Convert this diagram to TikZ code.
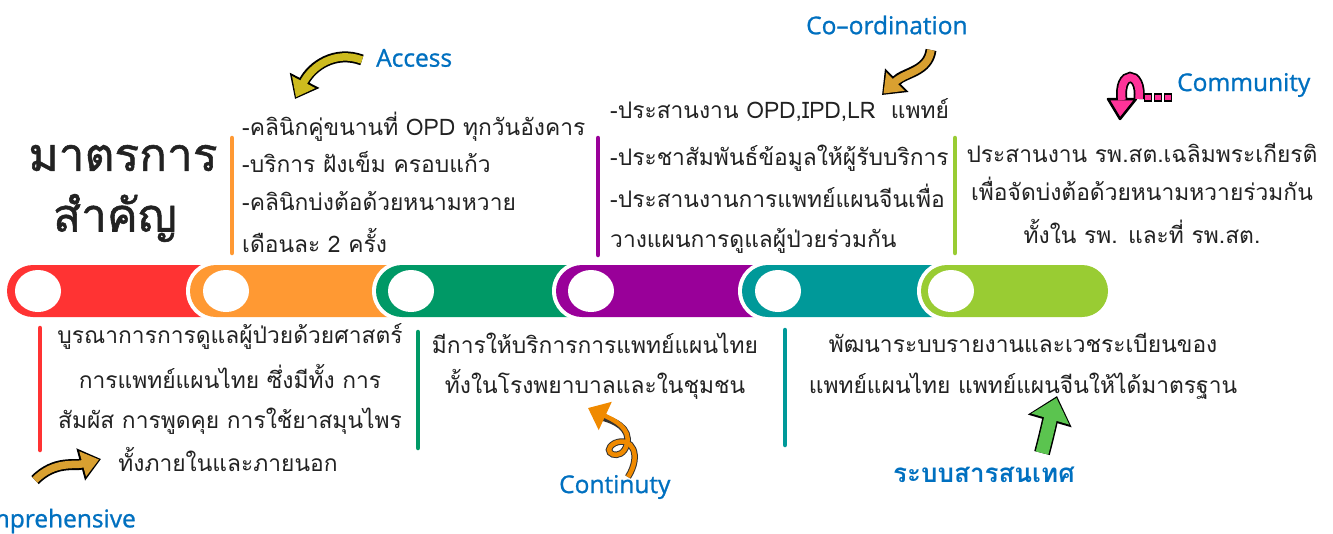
\documentclass[tikz,border=0pt]{standalone}
\usepackage{fontspec}
\usetikzlibrary{arrows.meta}
\newfontfamily\thai[Script=Thai]{Loma}
\newfontfamily\thaittl[Script=Thai,FakeBold=1.2]{Loma}
\newfontfamily\lat[FakeBold=1]{Open Sans}
\definecolor{cred}{HTML}{FF3333}
\definecolor{corange}{HTML}{FF9933}
\definecolor{cgreen}{HTML}{009966}
\definecolor{cpurple}{HTML}{990099}
\definecolor{cteal}{HTML}{009999}
\definecolor{clime}{HTML}{99CC33}
\definecolor{cblue}{HTML}{0070C0}
\definecolor{ctext}{HTML}{222222}
\definecolor{cgold}{HTML}{D9A030}
\definecolor{colive}{HTML}{CDBB1E}
\definecolor{cpink}{HTML}{FF3399}
\definecolor{corng}{HTML}{F08A00}
\definecolor{cgrn}{HTML}{5BC44F}
\begin{document}
\begin{tikzpicture}[x=1pt,y=-1pt,
  body/.style={font=\thai\fontsize{22.8}{26}\selectfont, text=ctext, inner sep=0pt},
  lbl/.style={font=\lat\fontsize{24.5}{28}\selectfont, text=cblue, inner sep=0pt},
  ttl/.style={font=\thaittl\fontsize{46}{54}\selectfont, text=ctext, inner sep=0pt},
  vbar/.style={line width=4.5pt, line cap=round},
  hole/.style={fill=white},
  arrout/.style={line width=11pt, draw=black, -{Triangle[length=21pt,width=32pt]}},
  arrin/.style={line width=7.5pt, -{Triangle[length=17pt,width=25pt]}, shorten >=2pt},
]
\useasboundingbox (0,0) rectangle (1333,533);
\clip (0,0) rectangle (1333,533);
\fill[white] (0,0) rectangle (1333,533);

% ---------- timeline bar ----------
\fill[cred] (33,291) circle[radius=26pt] (33,265) rectangle (220,317);
\fill[white] (216,291) circle[radius=30pt] (216,261) rectangle (406,321);
\fill[corange] (216,291) circle[radius=26pt] (216,265) rectangle (406,317);
\fill[white] (402,291) circle[radius=30pt] (402,261) rectangle (586,321);
\fill[cgreen] (402,291) circle[radius=26pt] (402,265) rectangle (586,317);
\fill[white] (582,291) circle[radius=30pt] (582,261) rectangle (772,321);
\fill[cpurple] (582,291) circle[radius=26pt] (582,265) rectangle (772,317);
\fill[white] (768,291) circle[radius=30pt] (768,261) rectangle (951,321);
\fill[cteal] (768,291) circle[radius=26pt] (768,265) rectangle (951,317);
\fill[white] (947,291) circle[radius=30pt] (947,261) rectangle (1082,321);
\fill[clime] (947,291) circle[radius=26pt] (947,265) rectangle (1082,317) (1082,291) circle[radius=26pt];
\foreach \cx in {38,226,411,591,778,951}
  \fill[hole] (\cx,291) ellipse[x radius=23pt, y radius=21pt];

% ---------- vertical bars ----------
\draw[vbar, corange] (232,138) -- (232,253);
\draw[vbar, cpurple] (598,138) -- (598,255);
\draw[vbar, clime] (955,138) -- (955,253);
\draw[vbar, cred] (40,328) -- (40,450);
\draw[vbar, cgreen] (418,332) -- (418,448);
\draw[vbar, cteal] (785,330) -- (785,445);

% ---------- title ----------
\node[ttl] (t1) at (123,158) {มาตรการ};
\node[ttl] (t2) at (115,218) {สำคัญ};

% ---------- upper texts ----------
\node[body, anchor=base west] (o1) at (242,135) {-คลินิกคู่ขนานที่ OPD ทุกวันอังคาร};
\node[body, anchor=base west] (o2) at (242,172) {-บริการ ฝังเข็ม ครอบแก้ว};
\node[body, anchor=base west] (o3) at (242,210) {-คลินิกบ่งต้อด้วยหนามหวาย};
\node[body, anchor=base west] (o4) at (242,252) {เดือนละ 2 ครั้ง};

\node[body, anchor=base west] (p1) at (610,118) {-ประสานงาน OPD,IPD,LR\ \ แพทย์};
\node[body, anchor=base west] (p2) at (610,165) {-ประชาสัมพันธ์ข้อมูลให้ผู้รับบริการ};
\node[body, anchor=base west] (p3) at (610,207) {-ประสานงานการแพทย์แผนจีนเพื่อ};
\node[body, anchor=base west] (p4) at (610,247) {วางแผนการดูแลผู้ป่วยร่วมกัน};

\node[body, anchor=base] (l1) at (1142,162) {ประสานงาน รพ.สต.เฉลิมพระเกียรติ};
\node[body, anchor=base] (l2) at (1142,200) {เพื่อจัดบ่งต้อด้วยหนามหวายร่วมกัน};
\node[body, anchor=base] (l3) at (1142,243) {ทั้งใน รพ. และที่ รพ.สต.};

% ---------- lower texts ----------
\node[body, anchor=base] (r1) at (230,343) {บูรณาการการดูแลผู้ป่วยด้วยศาสตร์};
\node[body, anchor=base] (r2) at (230,388) {การแพทย์แผนไทย ซึ่งมีทั้ง การ};
\node[body, anchor=base] (r3) at (230,428) {สัมผัส การพูดคุย การใช้ยาสมุนไพร};
\node[body, anchor=base] (r4) at (228,471) {ทั้งภายในและภายนอก};

\node[body, anchor=base] (g1) at (595,353) {มีการให้บริการการแพทย์แผนไทย};
\node[body, anchor=base] (g2) at (595,393) {ทั้งในโรงพยาบาลและในชุมชน};

\node[body, anchor=base] (e1) at (1023,352) {พัฒนาระบบรายงานและเวชระเบียนของ};
\node[body, anchor=base] (e2) at (1023,393) {แพทย์แผนไทย แพทย์แผนจีนให้ได้มาตรฐาน};

% ---------- labels ----------
\node[lbl, anchor=west] (acc) at (376,58) {Access};
\node[lbl, anchor=west] (coo) at (806,25) {Co–ordination};
\node[lbl, anchor=west] (com) at (1177,85) {Community};
\node[lbl, anchor=west] (con) at (559,487) {Continuty};
\node[lbl, anchor=east] (cmp) at (136,521) {Comprehensive};
\node[font=\thai\bfseries\fontsize{26}{30}\selectfont, text=cblue, inner sep=0pt, anchor=west] (inf) at (893,475) {ระบบสารสนเทศ};

% ---------- decorative arrows ----------
% Access
\coordinate (a1) at (362,60); \coordinate (a2) at (295,99);
\draw[arrout] (a1) .. controls (335,50) and (312,66) .. (a2);
\draw[arrin, colive] (a1) .. controls (335,50) and (312,66) .. (a2);
% Co-ordination
\coordinate (b1) at (931,50); \coordinate (b2) at (882,95);
\draw[arrout] (b1) .. controls (928,72) and (905,72) .. (b2);
\draw[arrin, cgold] (b1) .. controls (928,72) and (905,72) .. (b2);
% Community
\coordinate (c1) at (1139,99); \coordinate (c2) at (1122,100);
\draw[line width=11pt, black] (c1) .. controls (1142,70) and (1118,70) .. (c2);
\filldraw[fill=cpink, draw=black, line width=2.5pt, line join=round] (1108,99) -- (1136,99) -- (1120,119) -- cycle;
\draw[line width=7.5pt, cpink] (c1) .. controls (1142,70) and (1118,70) .. (c2);
\foreach \dx in {1148,1158,1168}
  \filldraw[fill=cpink, draw=black, line width=1.5pt] (\dx-3.5,94) rectangle (\dx+3.5,101);
% Comprehensive
\coordinate (d1) at (35,480); \coordinate (d2) at (101,459);
\draw[arrout] (d1) .. controls (55,460) and (75,466) .. (d2);
\draw[arrin, cgold] (d1) .. controls (55,460) and (75,466) .. (d2);
% Continuty
\coordinate (e1c) at (628,477); \coordinate (e2c) at (588,408);
\draw[line width=6.5pt, black!80] (e1c) .. controls (642,455) and (632,436) .. (615,443) .. controls (598,452) and (622,464) .. (627,444) .. controls (631,428) and (614,420) .. (600,417);
\draw[line width=4.5pt, corng, -{Triangle[length=19pt,width=30pt]}] (e1c) .. controls (642,455) and (632,436) .. (615,443) .. controls (598,452) and (622,464) .. (627,444) .. controls (631,428) and (614,420) .. (e2c);
% Information system
\coordinate (f1) at (1042,453); \coordinate (f2) at (1057,396);
\draw[line width=16pt, black, -{Triangle[length=26pt,width=44pt]}] (f1) .. controls (1048,430) and (1050,420) .. (f2);
\draw[line width=13pt, cgrn, -{Triangle[length=22pt,width=38pt]}, shorten >=2pt] (f1) .. controls (1048,430) and (1050,420) .. (f2);
\end{tikzpicture}
\end{document}
